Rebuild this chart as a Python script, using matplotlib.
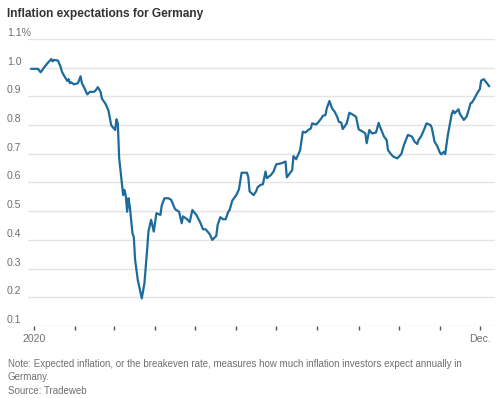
import matplotlib
matplotlib.use("Agg")
import matplotlib.pyplot as plt
import pandas as pd

# 数据
dates = [
    "2019-12-30", "2020-01-04", "2020-01-06", "2020-01-09", "2020-01-11",
    "2020-01-14", "2020-01-15", "2020-01-16", "2020-01-19", "2020-01-21",
    "2020-01-22", "2020-01-24", "2020-01-26", "2020-01-27", "2020-01-28",
    "2020-01-29", "2020-01-31", "2020-02-03", "2020-02-05", "2020-02-06",
    "2020-02-08", "2020-02-10", "2020-02-12", "2020-02-15", "2020-02-16",
    "2020-02-18", "2020-02-20", "2020-02-21", "2020-02-24", "2020-02-26",
    "2020-02-28", "2020-03-01", "2020-03-02", "2020-03-03", "2020-03-04",
    "2020-03-05", "2020-03-08", "2020-03-09", "2020-03-10", "2020-03-11",
    "2020-03-12", "2020-03-13", "2020-03-15", "2020-03-16", "2020-03-17",
    "2020-03-19", "2020-03-22", "2020-03-24", "2020-03-26", "2020-03-27",
    "2020-03-29", "2020-03-31", "2020-04-02", "2020-04-05", "2020-04-06",
    "2020-04-08", "2020-04-11", "2020-04-13", "2020-04-16", "2020-04-19",
    "2020-04-21", "2020-04-22", "2020-04-25", "2020-04-27", "2020-04-29",
    "2020-05-02", "2020-05-05", "2020-05-07", "2020-05-09", "2020-05-12",
    "2020-05-14", "2020-05-17", "2020-05-18", "2020-05-20", "2020-05-22",
    "2020-05-24", "2020-05-26", "2020-05-27", "2020-05-29", "2020-06-01",
    "2020-06-03", "2020-06-05", "2020-06-09", "2020-06-10", "2020-06-11",
    "2020-06-14", "2020-06-16", "2020-06-17", "2020-06-19", "2020-06-21",
    "2020-06-23", "2020-06-24", "2020-06-27", "2020-06-29", "2020-07-01",
    "2020-07-05", "2020-07-08", "2020-07-09", "2020-07-13", "2020-07-14",
    "2020-07-16", "2020-07-19", "2020-07-21", "2020-07-23", "2020-07-25",
    "2020-07-27", "2020-07-28", "2020-07-31", "2020-08-02", "2020-08-04",
    "2020-08-05", "2020-08-07", "2020-08-08", "2020-08-10", "2020-08-12",
    "2020-08-14", "2020-08-16", "2020-08-17", "2020-08-19", "2020-08-20",
    "2020-08-23", "2020-08-25", "2020-08-28", "2020-08-30", "2020-09-01",
    "2020-09-03", "2020-09-06", "2020-09-07", "2020-09-09", "2020-09-11",
    "2020-09-14", "2020-09-16", "2020-09-17", "2020-09-20", "2020-09-22",
    "2020-09-23", "2020-09-25", "2020-09-27", "2020-09-30", "2020-10-03",
    "2020-10-05", "2020-10-08", "2020-10-11", "2020-10-13", "2020-10-15",
    "2020-10-16", "2020-10-18", "2020-10-20", "2020-10-22", "2020-10-25",
    "2020-10-26", "2020-10-28", "2020-10-30", "2020-11-01", "2020-11-02",
    "2020-11-04", "2020-11-05", "2020-11-07", "2020-11-10", "2020-11-11",
    "2020-11-12", "2020-11-15", "2020-11-16", "2020-11-19", "2020-11-21",
    "2020-11-23", "2020-11-24", "2020-11-25", "2020-11-27", "2020-11-29",
    "2020-12-01", "2020-12-02", "2020-12-04", "2020-12-06", "2020-12-08",
]
values = [
    0.996, 0.996, 0.984, 1.003, 1.015, 1.030, 1.022, 1.027, 1.025, 1.003,
    0.986, 0.969, 0.954, 0.960, 0.946, 0.949, 0.942, 0.946, 0.970, 0.946,
    0.928, 0.907, 0.916, 0.916, 0.919, 0.932, 0.916, 0.893, 0.872, 0.850,
    0.800, 0.788, 0.783, 0.820, 0.805, 0.685, 0.556, 0.574, 0.553, 0.498,
    0.545, 0.516, 0.423, 0.410, 0.330, 0.260, 0.196, 0.249, 0.365, 0.429,
    0.470, 0.429, 0.493, 0.487, 0.520, 0.545, 0.545, 0.540, 0.507, 0.498,
    0.458, 0.482, 0.472, 0.462, 0.504, 0.487, 0.460, 0.437, 0.437, 0.420,
    0.400, 0.414, 0.452, 0.479, 0.472, 0.472, 0.498, 0.504, 0.537, 0.556,
    0.576, 0.634, 0.634, 0.620, 0.569, 0.556, 0.570, 0.583, 0.591, 0.594,
    0.638, 0.615, 0.626, 0.638, 0.663, 0.667, 0.673, 0.618, 0.643, 0.692,
    0.681, 0.713, 0.777, 0.774, 0.783, 0.788, 0.806, 0.802, 0.812, 0.824,
    0.832, 0.835, 0.858, 0.884, 0.858, 0.846, 0.827, 0.812, 0.808, 0.786,
    0.806, 0.843, 0.835, 0.829, 0.785, 0.780, 0.771, 0.737, 0.783, 0.771,
    0.774, 0.808, 0.794, 0.760, 0.748, 0.713, 0.700, 0.690, 0.684, 0.699,
    0.731, 0.766, 0.760, 0.742, 0.734, 0.748, 0.762, 0.783, 0.806, 0.800,
    0.789, 0.742, 0.727, 0.704, 0.698, 0.707, 0.699, 0.766, 0.841, 0.850,
    0.841, 0.855, 0.839, 0.818, 0.829, 0.858, 0.876, 0.878, 0.893, 0.911,
    0.925, 0.955, 0.960, 0.948, 0.936,
]
y_ticks = [0.1, 0.2, 0.3, 0.4, 0.5, 0.6, 0.7, 0.8, 0.9, 1.0, 1.1]
y_labels = ["0.1", "0.2", "0.3", "0.4", "0.5", "0.6", "0.7", "0.8", "0.9", "1.0", "1.1%"]

LINE = "#1d6b9a"
GRID = "#e4e4e4"
TXT = "#707070"

plt.rcParams["font.family"] = ["Liberation Sans", "DejaVu Sans"]

fig = plt.figure(figsize=(5.0, 3.98), dpi=100)
ax = fig.add_axes([0.056, 0.181, 0.934, 0.721])

x = pd.to_datetime(dates)
ax.plot(x, values, color=LINE, linewidth=1.6, solid_joinstyle="round", zorder=3)

ax.set_ylim(0.1, 1.1)
ax.set_xlim(pd.Timestamp("2019-12-27 12:00"), pd.Timestamp("2020-12-12 10:00"))

# 网格线
for yv in y_ticks:
    ax.axhline(yv, color=GRID, linewidth=1.0, zorder=1)
ax.set_yticks([])
for s in ax.spines.values():
    s.set_visible(False)

# y 轴标签画在网格线上方，靠左
for yv, lab in zip(y_ticks, y_labels):
    ax.annotate(lab, xy=(0, yv), xycoords=("figure fraction", "data"),
                xytext=(7, 3), textcoords="offset pixels",
                ha="left", va="baseline", fontsize=7.6, color=TXT)

# x 轴刻度：每月一个
months = pd.date_range("2020-01-01", "2020-12-01", freq="MS")
ax.set_xticks(months)
ax.set_xticklabels(["2020"] + [""] * 10 + ["Dec."])
ax.tick_params(axis="x", length=3, width=1.0, color="#555555",
               labelsize=7.6, labelcolor=TXT, pad=3)

fig.text(0.014, 0.965, "Inflation expectations for Germany", fontsize=8.6,
         fontweight="bold", color="#333333", ha="left", va="center")
fig.text(0.016, 0.085,
         "Note: Expected inflation, or the breakeven rate, measures how much inflation investors expect annually in",
         fontsize=7.0, color=TXT, ha="left", va="center")
fig.text(0.016, 0.052, "Germany.", fontsize=7.0, color=TXT, ha="left", va="center")
fig.text(0.016, 0.018, "Source: Tradeweb", fontsize=7.0, color=TXT, ha="left", va="center")

fig.savefig("out.png", dpi=100, facecolor="white")
